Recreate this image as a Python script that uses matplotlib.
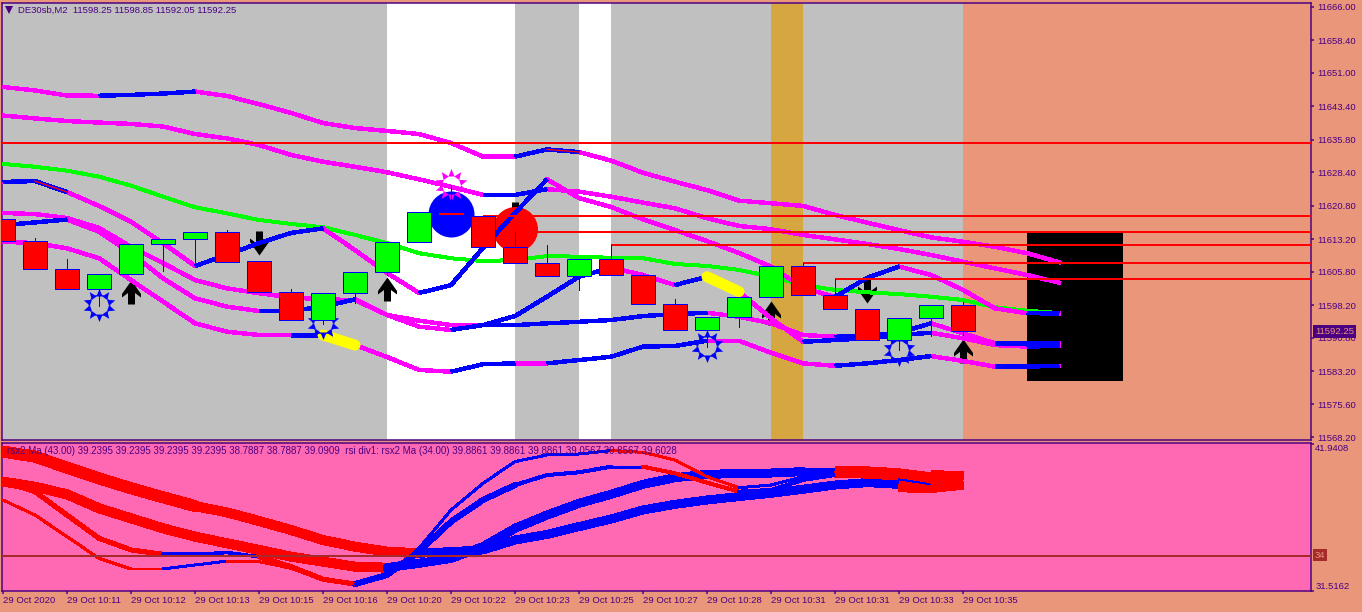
import numpy as np
import matplotlib
matplotlib.use('Agg')
import matplotlib.pyplot as plt
from matplotlib.path import Path

# candles (bar index = position in list)
opens = [11617.70, 11612.70, 11606.35, 11601.80, 11605.20, 11612.00, 11613.15, 11614.75, 11608.15, 11601.10, 11594.75,
         11600.90, 11605.65, 11612.45, 11619.25, 11618.40, 11611.35, 11607.70, 11604.80, 11608.60, 11604.95,
         11598.40, 11592.45, 11595.60, 11600.10, 11607.00, 11600.40, 11597.25, 11590.25, 11595.20, 11598.15]
closes = [11612.70, 11606.35, 11601.80, 11605.20, 11612.00, 11613.15, 11614.75, 11608.05, 11601.10, 11594.75, 11600.90,
          11605.65, 11612.45, 11619.30, 11618.90, 11611.35, 11607.70, 11604.80, 11608.60, 11604.95, 11598.40,
          11592.45, 11595.60, 11600.10, 11607.00, 11600.40, 11597.25, 11590.25, 11595.20, 11598.15, 11592.25]
highs = [11617.70, 11613.45, 11608.60, 11605.20, 11612.00, 11613.15, 11614.75, 11615.25, 11608.15, 11601.85, 11600.90,
         11605.65, 11612.45, 11619.30, 11625.50, 11618.40, 11614.90, 11611.85, 11608.60, 11611.85, 11605.55,
         11599.50, 11595.60, 11600.10, 11607.00, 11607.70, 11604.15, 11597.25, 11595.20, 11598.15, 11599.00]
lows = [11612.70, 11606.35, 11601.80, 11598.00, 11605.20, 11606.00, 11607.10, 11608.05, 11601.10, 11594.75, 11593.90,
        11598.75, 11605.05, 11612.45, 11618.90, 11611.35, 11607.70, 11604.80, 11601.65, 11604.95, 11598.40,
        11592.45, 11588.75, 11593.15, 11600.10, 11600.40, 11597.25, 11590.25, 11588.00, 11591.15, 11591.40]

# indicator lines on the price pane
band_a = [11647.8, 11647.0, 11645.85, 11645.8, 11646.0, 11646.3, 11646.75, 11645.75, 11643.9, 11641.9, 11639.6, 11638.45,
          11637.8, 11637.1, 11635.05, 11631.95, 11631.95, 11633.6, 11633.0, 11631.05, 11628.3, 11626.25, 11624.35,
          11621.95, 11621.35, 11620.75, 11618.7, 11616.95, 11615.25, 11613.6, 11612.6, 11611.45, 11610.0, 11607.95]
band_b = [11641.3, 11640.65, 11640.05, 11639.7, 11639.4, 11638.8, 11637.1, 11636.1, 11634.6, 11632.35, 11630.8, 11629.65,
          11628.4, 11626.8, 11625.1, 11623.25, 11623.25, 11624.55, 11624.0, 11622.85, 11621.5, 11620.2, 11617.95,
          11616.2, 11615.45, 11614.15, 11613.15, 11612.1, 11610.95, 11609.6, 11608.05, 11606.55, 11605.05, 11603.3]
band_c = [11626.2, 11626.4, 11623.9, 11620.75, 11617.15, 11612.3, 11607.1, 11609.6, 11612.3, 11614.6, 11615.65, 11610.7,
          11605.5, 11600.95, 11602.75, 11611.2, 11619.15, 11626.8, 11622.55, 11620.5, 11617.7, 11615.25, 11612.75,
          11610.05, 11606.95, 11602.1, 11600.05, 11604.4, 11606.95, 11605.05, 11601.65, 11597.45, 11596.35, 11596.3]
green_ma = [11630.3, 11629.65, 11628.75, 11627.4, 11625.35, 11622.85, 11620.45, 11619.05, 11617.55, 11616.65, 11615.9,
            11614.15, 11612.3, 11610.0, 11608.85, 11608.2, 11608.45, 11609.35, 11609.2, 11608.95, 11608.85, 11607.55,
            11607.1, 11606.2, 11604.65, 11602.75, 11601.65, 11601.1, 11600.7, 11600.1, 11599.35, 11597.7, 11596.9, 11596.4]
band_d = [11619.15, 11618.9, 11618.0, 11615.75, 11611.45, 11607.75, 11603.9, 11602.0, 11600.9, 11599.95, 11599.5, 11599.35,
          11595.95, 11594.65, 11593.65, 11593.65, 11593.65, 11594.05, 11594.4, 11594.8, 11595.7, 11596.15, 11596.45,
          11595.55, 11594.05, 11591.4, 11591.0, 11591.15, 11591.9, 11594.05, 11591.8, 11589.5, 11589.5, 11589.5]
band_e = [11616.4, 11617.0, 11617.65, 11614.9, 11610.05, 11604.3, 11599.75, 11597.85, 11596.85, 11596.85, 11597.85, 11599.5,
          11595.95, 11593.3, 11592.55, 11593.65, 11595.7, 11600.1, 11604.65, 11606.7, 11605.05, 11602.75, 11604.65,
          11601.25, 11595.2, 11589.85, 11590.25, 11590.65, 11591.4, 11591.9, 11590.65, 11589.1, 11588.75, 11588.95]
band_f = [11612.6, 11612.3, 11611.1, 11608.85, 11603.9, 11599.0, 11594.05, 11592.15, 11591.4, 11591.4, 11591.4, 11589.1,
          11586.4, 11583.45, 11583.05, 11584.75, 11584.95, 11584.95, 11585.7, 11586.45, 11588.75, 11588.9, 11590.1,
          11590.1, 11587.35, 11584.95, 11584.4, 11584.95, 11585.7, 11586.6, 11585.5, 11584.2, 11584.2, 11584.4]

# blue stretches of each band as (first bar, last bar), the rest is magenta
blue_a = [(3, 6), (16, 18)]
blue_b = [(15, 17)]
blue_c = [(0, 2), (6, 10), (13, 17), (26, 28), (32, 33)]
blue_d = [(15, 22), (26, 29), (31, 33)]
blue_e = [(0, 2), (8, 11), (14, 19), (21, 22), (25, 29), (32, 33)]
blue_f = [(9, 10), (14, 16), (17, 22), (26, 29), (31, 33)]

# horizontal levels: price, first bar
level_prices = [11635.05, 11618.45, 11614.90, 11611.85, 11607.70, 11604.15]
level_starts = [-1, 15, 16, 19, 25, 26]

# background zones between bars
gray_zones = [(-1, 12), (16, 18), (19, 24), (25, 30)]
gold_zone = (24, 25)
box_bars = (32, 35)
box_prices = (11580.95, 11614.6)

# signals
up_bars = [4, 12, 24, 30]
up_prices = [11601.15, 11601.75, 11596.3, 11587.75]
down_bars = [8, 16, 27]
down_prices = [11612.4, 11618.9, 11601.4]
sun_bars = [3, 10, 22, 28]
sun_prices = [11598.2, 11594.1, 11588.9, 11588.0]
pink_sun_bar = 14
pink_sun_price = 11625.5
blue_dot = (14, 11618.9)
red_dot = (16, 11615.5)

# yellow pieces lie on top of band_f and band_e
yellow_f = (10, 11)
yellow_e = (22, 23)

# price scale
price_ticks = [11666.00, 11658.40, 11651.00, 11643.40, 11635.80, 11628.40, 11620.80,
               11613.20, 11605.80, 11598.20, 11590.80, 11583.20, 11575.60, 11568.20]
last_price = 11592.25

# rsi pane
rsi_1 = [41.40, 41.04, 40.26, 39.50, 38.80, 38.16, 37.54, 37.09, 36.48, 35.84, 35.13, 34.66, 34.31, 34.19, 34.31, 34.43,
         35.13, 35.53, 36.08, 36.62, 37.26, 37.66, 37.97, 38.21, 38.44, 38.73, 39.03, 39.20, 39.08, 39.03, 39.27]
rsi_2 = [39.27, 38.91, 38.37, 37.38, 36.67, 35.96, 35.37, 34.90, 34.43, 33.95, 33.60, 33.24, 33.17, 33.48, 33.83, 34.66,
         35.96, 36.90, 37.73, 38.37, 39.08, 39.55, 39.79, 39.84, 39.88, 39.98, 39.98, 39.93, 39.79, 39.50, 39.39]
rsi_3 = [39.27, 38.56, 36.90, 35.25, 34.43, 34.12, 34.12, 34.24, 33.95, 33.24, 32.35, 32.01, 32.65, 34.31, 36.43, 37.97,
         39.03, 39.74, 39.93, 40.33, 40.33, 39.86, 39.20, 38.56, 38.68, 39.39, 39.74, 39.62, 39.50, 39.15, 39.27]
rsi_4 = [37.97, 36.90, 35.37, 33.83, 33.08, 33.08, 33.36, 33.64, 33.60, 33.13, 32.30, 32.01, 32.53, 34.54, 37.26, 39.15,
         40.69, 41.16, 41.23, 41.47, 41.35, 40.80, 39.62, 38.84, 39.03, 39.62, 39.74, 39.74, 39.62, 39.27, 39.27]
blue_1 = [(13, 28)]
blue_2 = [(12, 26)]
blue_3 = [(5, 8), (11, 20), (23, 26), (28, 29)]
blue_4 = [(5, 7), (11, 19), (23, 26)]
rsi_level = 34
rsi_ticks = [41.9408, 31.5162]

tick_bars = list(range(0, 31, 2))
time_labels = ['29 Oct 2020', '29 Oct 10:11', '29 Oct 10:12', '29 Oct 10:13', '29 Oct 10:15', '29 Oct 10:16',
               '29 Oct 10:20', '29 Oct 10:22', '29 Oct 10:23', '29 Oct 10:25', '29 Oct 10:27', '29 Oct 10:28',
               '29 Oct 10:31', '29 Oct 10:31', '29 Oct 10:33', '29 Oct 10:35']

price_title = 'DE30sb,M2  11598.25 11598.85 11592.05 11592.25'
rsi_title = ('rsx2 Ma (43.00) 39.2395 39.2395 39.2395 39.2395 38.7887 38.7887 39.0909  '
             'rsi div1: rsx2 Ma (34.00) 39.8861 39.8861 39.8861 39.0567 39.8567 39.6028')

W, H = 1362, 612
PX = 0.72   # one pixel in points at dpi 100
INDIGO = '#4B0082'
SALMON = '#E9967A'
MAGENTA = '#FF00FF'
plt.rcParams['font.family'] = ['Liberation Sans', 'DejaVu Sans']
plt.rcParams['font.size'] = 6.8

fig = plt.figure(figsize=(W / 100, H / 100), dpi=100, facecolor=SALMON)


def pane(left, top, right, bottom):
    a = fig.add_axes([left / W, 1 - bottom / H, (right - left) / W, (bottom - top) / H], facecolor=SALMON)
    a.set_xlim(-1 / 32, 1308 / 32)
    for s in a.spines.values():
        s.set_color(INDIGO)
        s.set_linewidth(1.5 * PX)
    a.yaxis.tick_right()
    a.tick_params(axis='both', colors=INDIGO, length=3 * PX, width=1.5 * PX, labelcolor=INDIGO)
    return a


def draw_band(a, vals, blue, color=MAGENTA, lw=3.4, z=3):
    # magenta over the whole line, blue stretches on top
    xs = np.arange(len(vals))
    a.plot(xs, vals, color=color, lw=lw * PX, zorder=z, solid_joinstyle='miter', antialiased=False)
    for b0, b1 in blue:
        a.plot(xs[b0:b1 + 1], vals[b0:b1 + 1], color='#0000FF', lw=lw * PX, zorder=z + 0.1,
               solid_capstyle='butt', solid_joinstyle='miter', antialiased=False)


def arrow_marker(up=True):
    s = 1 if up else -1
    v = [(0, 12), (9.5, -1.5), (9.5, -5), (3.5, -0.5), (3.5, -12), (-3.5, -12), (-3.5, -0.5), (-9.5, -5), (-9.5, -1.5), (0, 12)]
    return Path([(x, s * y) for x, y in v], closed=True)


def sun_marker():
    verts, codes = [], []
    for k in range(10):
        t = 2 * np.pi * k / 10 + np.pi / 2
        d = 0.33
        pts = [(16.5 * np.cos(t), 16.5 * np.sin(t)),
               (9.5 * np.cos(t - d), 9.5 * np.sin(t - d)),
               (9.5 * np.cos(t + d), 9.5 * np.sin(t + d)),
               (16.5 * np.cos(t), 16.5 * np.sin(t))]
        verts += pts
        codes += [Path.MOVETO, Path.LINETO, Path.LINETO, Path.CLOSEPOLY]
    return Path(verts, codes)


# ---- price pane
ax = pane(2, 3, 1311, 440)
ax.set_ylim(11567.52, 11666.89)

for z0, z1 in gray_zones:
    ax.axvspan(z0, z1, color='#C0C0C0', lw=0, zorder=1)
# what is not gray up to bar 30 is white, except for the gold piece
ax.axvspan(-1, 30, color='white', lw=0, zorder=0.5)
ax.axvspan(gold_zone[0], gold_zone[1], color='#D6A640', lw=0, zorder=1)
ax.bar((box_bars[0] + box_bars[1]) / 2, box_prices[1] - box_prices[0], bottom=box_prices[0],
       width=box_bars[1] - box_bars[0], color='black', zorder=1.5)

ax.plot(down_bars, down_prices, ls='none', marker=arrow_marker(False), ms=24 * PX, color='black', mew=0, zorder=1.8)
ax.plot(*blue_dot, marker='o', ms=46 * PX, color='#0000FF', mew=0, zorder=2)
ax.plot(*red_dot, marker='o', ms=45 * PX, color='#FF0000', mew=0, zorder=2)
ax.plot(up_bars, up_prices, ls='none', marker=arrow_marker(True), ms=24 * PX, color='black', mew=0, zorder=2.5)

draw_band(ax, green_ma, [], color='#00FF00', lw=3, z=2.8)
draw_band(ax, band_a, blue_a)
draw_band(ax, band_b, blue_b)
draw_band(ax, band_c, blue_c)
draw_band(ax, band_d, blue_d)
draw_band(ax, band_e, blue_e)
draw_band(ax, band_f, blue_f)

# thin red pieces on band_c and band_a
ax.plot([1, 2], band_c[1:3], color='#FF0000', lw=1.3 * PX, zorder=3.5)
ax.plot([17, 18], band_a[17:19], color='#FF0000', lw=1.3 * PX, zorder=3.5)

ax.plot(yellow_f, band_f[yellow_f[0]:yellow_f[1] + 1], color='#FFFF00', lw=11 * PX, zorder=3.6,
        solid_capstyle='round')
ax.plot(yellow_e, band_e[yellow_e[0]:yellow_e[1] + 1], color='#FFFF00', lw=11 * PX, zorder=3.6,
        solid_capstyle='round')

for lp, ls0 in zip(level_prices, level_starts):
    ax.hlines(lp, ls0, 41, color='#FF0000', lw=2 * PX, zorder=4, antialiased=False)

sun = sun_marker()
ax.plot(sun_bars, sun_prices, ls='none', marker=sun, ms=33 * PX, color='#0000FF', mew=0, zorder=4.5)
ax.plot(sun_bars, sun_prices, ls='none', marker='o', ms=21 * PX, mfc='none', mec='#0000FF', mew=0.8 * PX, zorder=4.5)
ax.plot(pink_sun_bar, pink_sun_price, marker=sun, ms=33 * PX, color=MAGENTA, mew=0, zorder=4.5)

bars = np.arange(len(opens))
for i in bars:
    body_col = '#00FF00' if closes[i] > opens[i] else '#FF0000'
    edge_col = '#FF0000' if abs(closes[i] - opens[i]) < 0.5 else '#0000FF'
    ax.vlines(i, lows[i], highs[i], color='#0000FF', lw=1 * PX, zorder=5, antialiased=False)
    ax.bar(i, abs(closes[i] - opens[i]), bottom=min(opens[i], closes[i]), width=0.74, color=body_col,
           edgecolor=edge_col, linewidth=1 * PX, zorder=5.1)

ax.set_xticks([])
ax.set_yticks(price_ticks)
ax.set_yticklabels(['%.2f' % p for p in price_ticks])
ax.tick_params(axis='y', pad=2.2)

# ---- rsi pane
ax2 = pane(2, 442.5, 1311, 591)
ax2.set_facecolor('#FF69B4')
ax2.set_ylim(31.5162, 42.045)

ax2.axhline(rsi_level, color='#A52A2A', lw=2 * PX, zorder=4)

# line widths in pixels per bar stretch: thick at the left, thicker where the lines end
widths_1 = [(0, 6, 11), (6, 13, 9), (13, 28, 8), (28, 30, 15)]
widths_2 = [(0, 12, 9), (12, 26, 8), (26, 29, 11), (29, 30, 16)]
widths_3 = [(0, 5, 4), (5, 8, 2.5), (8, 11, 4), (11, 16, 5), (16, 23, 3), (23, 30, 3)]
widths_4 = [(0, 30, 2)]

for vals, blue, widths in [(rsi_1, blue_1, widths_1), (rsi_2, blue_2, widths_2),
                           (rsi_3, blue_3, widths_3), (rsi_4, blue_4, widths_4)]:
    xs = np.arange(len(vals))
    for w0, w1, w in widths:
        for i in range(w0, w1):
            is_blue = any(b0 <= i < b1 for b0, b1 in blue)
            cap = 'butt' if i >= 26 else 'round'
            ax2.plot(xs[i:i + 2], vals[i:i + 2], color='#0000FF' if is_blue else '#FF0000', lw=w * PX,
                     solid_capstyle=cap, zorder=3, antialiased=False)

ax2.set_xticks(tick_bars)
ax2.set_xticklabels(time_labels, ha='left')
ax2.tick_params(axis='x', pad=1.5)
ax2.set_yticks(rsi_ticks)
ax2.set_yticklabels(['%.4f' % v for v in rsi_ticks])
ax2.tick_params(axis='y', pad=0.8)
ax2.get_yticklabels()[0].set_va('top')
ax2.get_yticklabels()[1].set_va('bottom')

# ---- texts
fig.text(18 / W, 1 - 10 / H, price_title, color=INDIGO, va='center', ha='left', zorder=10)
fig.text(7 / W, 1 - 451 / H, rsi_title, color=INDIGO, va='center', ha='left', zorder=10, fontsize=7.0)
ax.plot([0.0053], [0.984], marker='v', ms=6.5 * PX * 1.2, color=INDIGO, mew=0, transform=ax.transAxes, zorder=10)
fig.text(1315 / W, 1 - 331.5 / H, '%.2f' % last_price, color=SALMON, va='center', ha='left', zorder=10,
         bbox=dict(boxstyle='square,pad=0.2', fc=INDIGO, ec='none'))
fig.text(1315 / W, 1 - 555 / H, str(rsi_level), color=SALMON, va='center', ha='left', zorder=10,
         bbox=dict(boxstyle='square,pad=0.2', fc='#A52A2A', ec='none'))

fig.savefig('out.png', dpi=100, facecolor=SALMON)
